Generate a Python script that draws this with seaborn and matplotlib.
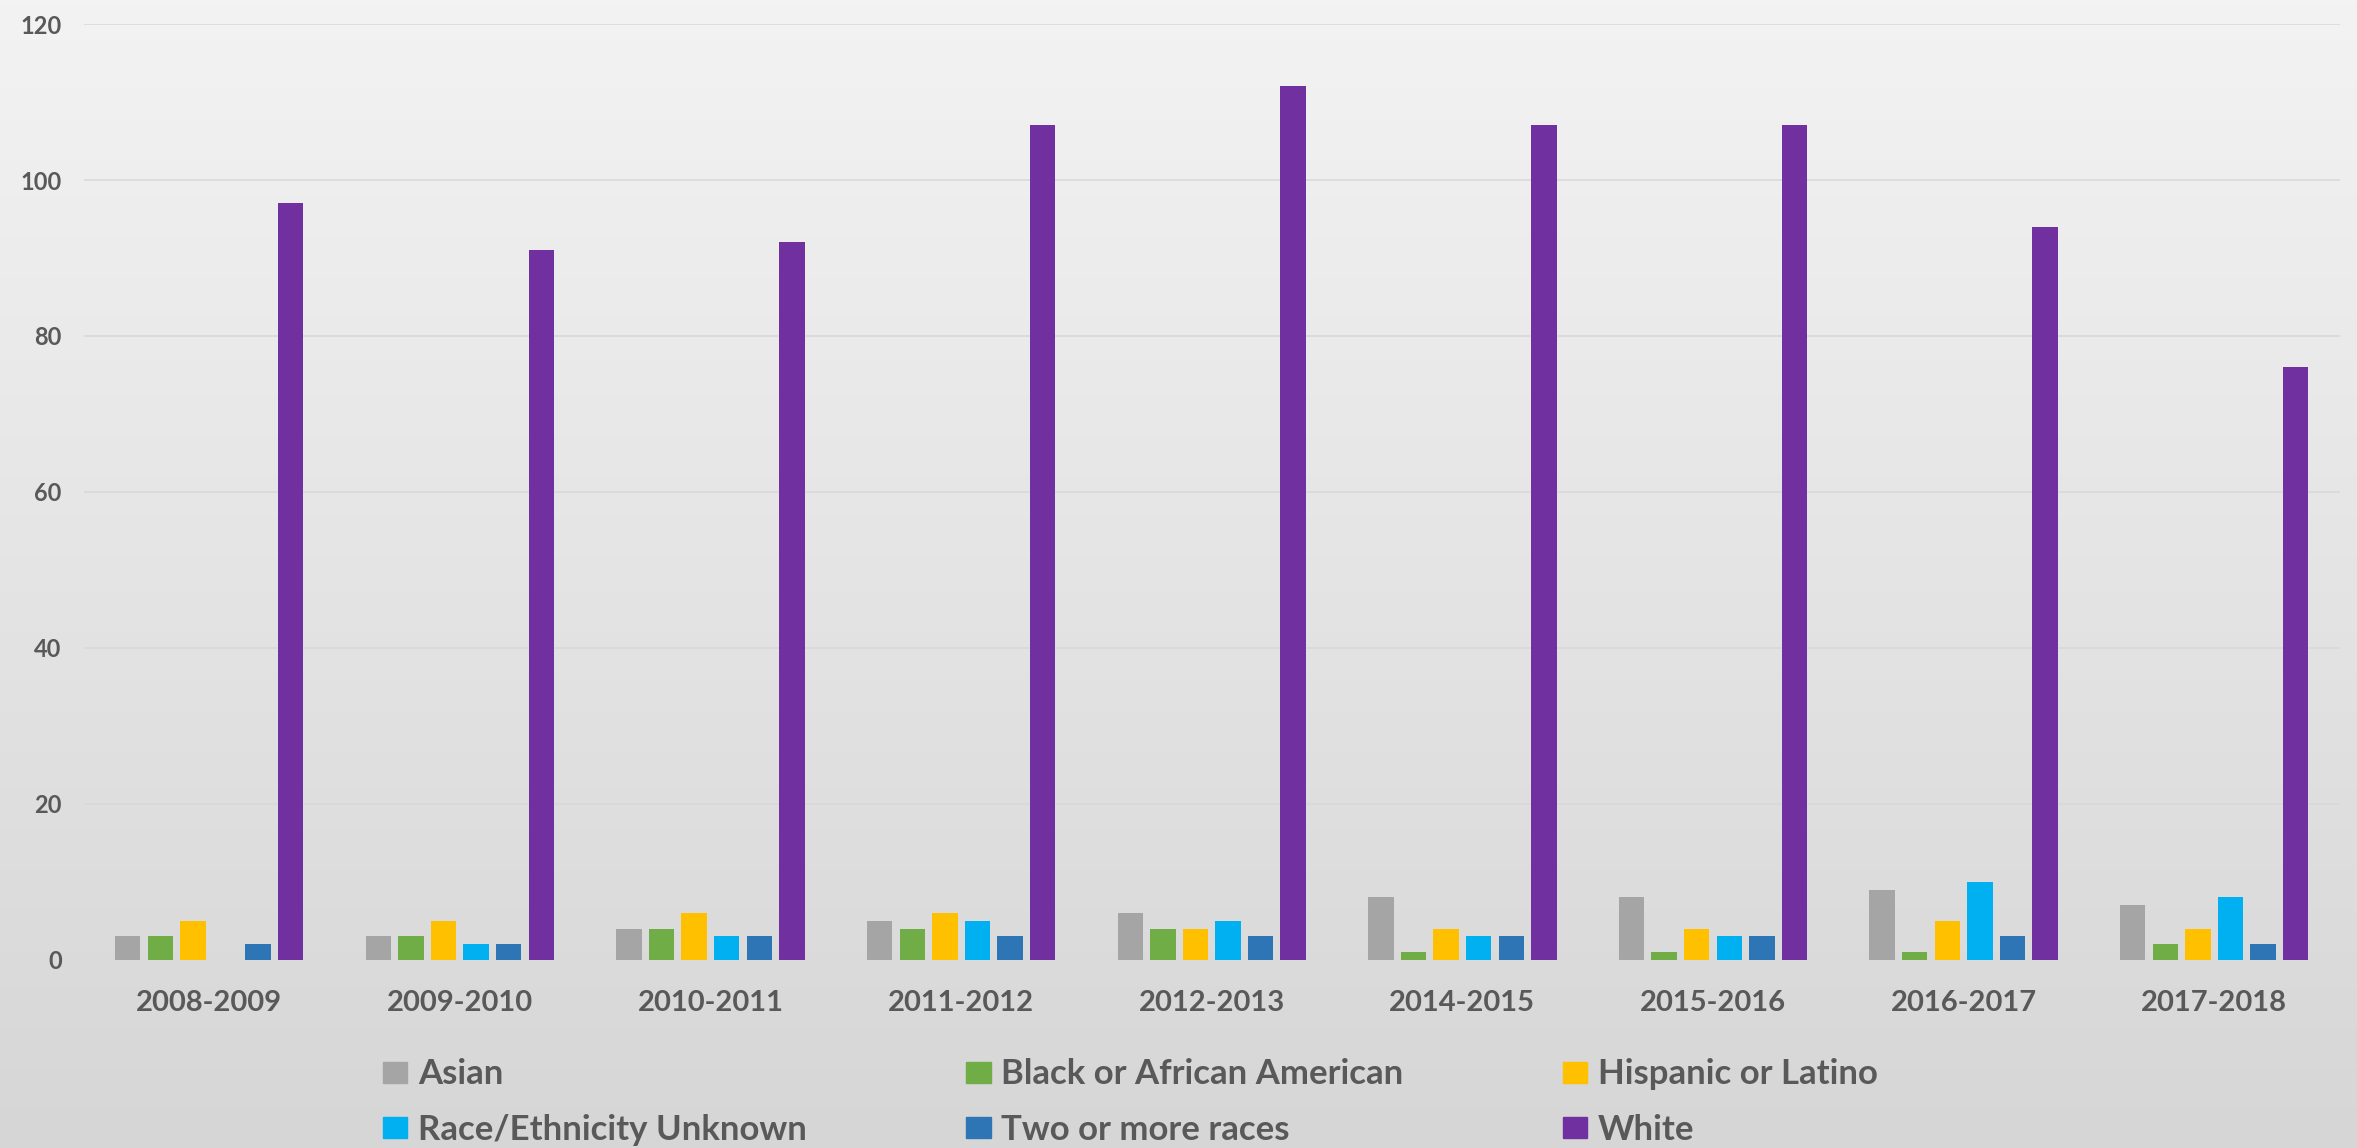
import numpy as np
import pandas as pd
import seaborn as sns
import matplotlib
matplotlib.use("Agg")
import matplotlib.pyplot as plt

# data
years = ['2008-2009', '2009-2010', '2010-2011', '2011-2012', '2012-2013',
         '2014-2015', '2015-2016', '2016-2017', '2017-2018']
asian = [3, 3, 4, 5, 6, 8, 8, 9, 7]
black = [3, 3, 4, 4, 4, 1, 1, 1, 2]
hispanic = [5, 5, 6, 6, 4, 4, 4, 5, 4]
unknown = [0, 2, 3, 5, 5, 3, 3, 10, 8]
two_more = [2, 2, 3, 3, 3, 3, 3, 3, 2]
white = [97, 91, 92, 107, 112, 107, 107, 94, 76]
groups = ['Asian', 'Black or African American', 'Hispanic or Latino',
          'Race/Ethnicity Unknown', 'Two or more races', 'White']
colors = ['#A5A5A5', '#70AD47', '#FFC000', '#00B0F0', '#2E75B6', '#7030A0']
yticks = [0, 20, 40, 60, 80, 100, 120]

df = pd.DataFrame({'years': years, 'Asian': asian,
                   'Black or African American': black,
                   'Hispanic or Latino': hispanic,
                   'Race/Ethnicity Unknown': unknown,
                   'Two or more races': two_more, 'White': white})
data = df.melt('years', var_name='Group', value_name='Count')

sns.set_style("white")
plt.rcParams['font.family'] = ['Lato', 'DejaVu Sans']
plt.rcParams['font.weight'] = 'bold'

fig = plt.figure(figsize=(23.57, 11.48), dpi=100)

# gradient background like the excel chart area
bg = fig.add_axes([0, 0, 1, 1], zorder=-10)
grad = np.linspace(0, 1, 256).reshape(-1, 1)
bg.imshow(grad, aspect='auto', cmap=matplotlib.colors.LinearSegmentedColormap.from_list(
    'bgc', ['#F3F3F3', '#D6D6D6']), extent=[0, 1, 1, 0])
bg.set_axis_off()

ax = fig.add_axes([0.0356, 0.164, 0.957, 0.815])
ax.patch.set_alpha(0)
sns.barplot(data=data, x='years', y='Count', hue='Group', palette=colors,
            width=0.78, gap=0.22, saturation=1, linewidth=0, ax=ax,
            legend=False, zorder=3)
ax.set_ylim(0, 120)
ax.set_xlim(-0.5, len(years) - 0.5)
ax.set_yticks(yticks)
ax.yaxis.grid(True, color='#D9D9D9', linewidth=1.2, zorder=0)
ax.set_axisbelow(True)
for s in ax.spines.values():
    s.set_visible(False)
ax.set_xlabel('')
ax.set_ylabel('')
ax.tick_params(axis='x', length=0, pad=22, labelsize=21, labelcolor='#595959')
ax.tick_params(axis='y', length=0, pad=16, labelsize=17, labelcolor='#595959')

# legend: 3 columns x 2 rows, filled column-wise
order = [0, 3, 1, 4, 2, 5]
handles = [plt.Rectangle((0, 0), 1, 1, color=colors[i]) for i in order]
labels = [groups[i] for i in order]
leg = fig.legend(handles, labels, ncol=3, loc='upper left',
                 bbox_to_anchor=(0.1625, 0.078), frameon=False,
                 fontsize=25, handlelength=0.7, handleheight=0.55,
                 handletextpad=0.3, columnspacing=4.6, labelspacing=0.68,
                 borderaxespad=0, borderpad=0)
for t in leg.get_texts():
    t.set_color('#595959')

plt.savefig('out.png', dpi=100)
